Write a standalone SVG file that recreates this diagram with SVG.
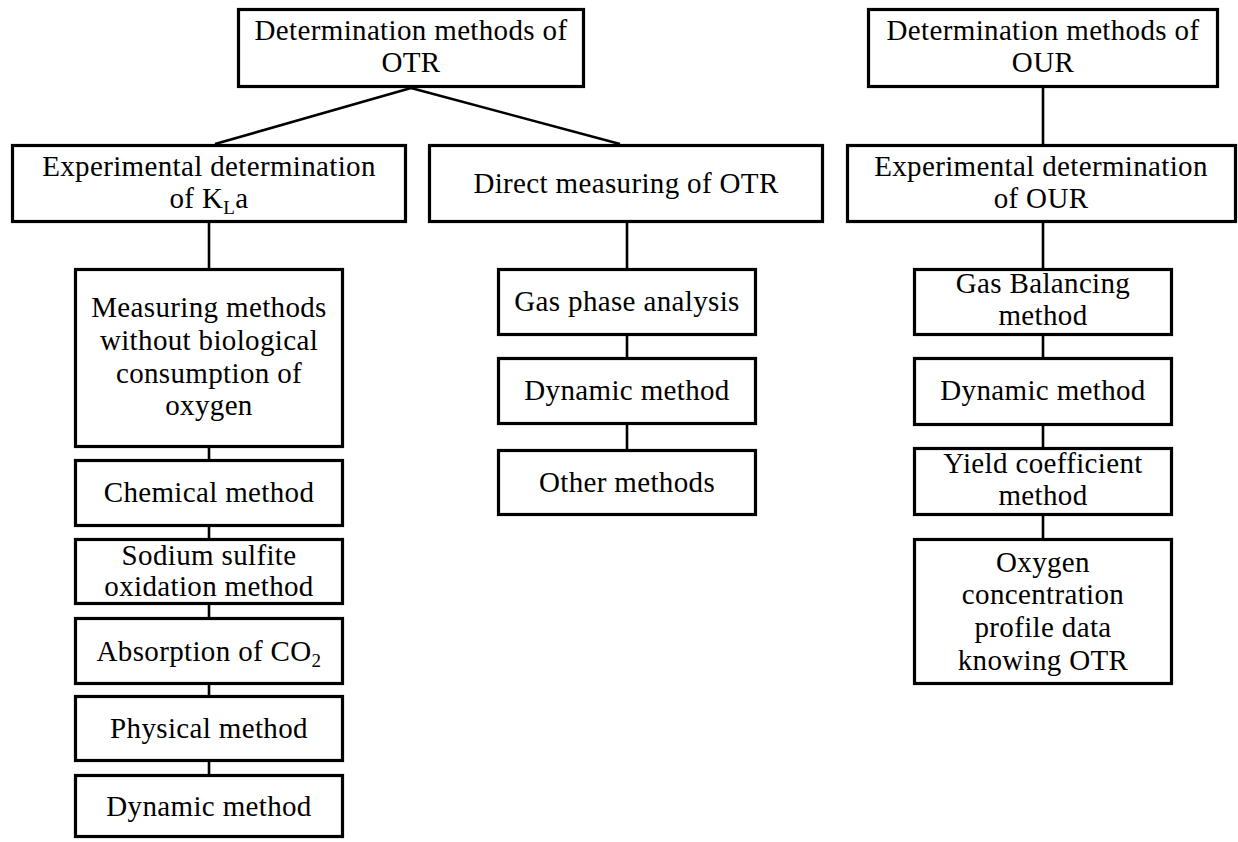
<svg xmlns="http://www.w3.org/2000/svg" width="1238" height="842" viewBox="0 0 1238 842">
<style>
.box{fill:#fff;stroke:#000;stroke-width:3.2}
.ln{stroke:#000;stroke-width:2.6;fill:none}
text{font-family:"Liberation Serif","Times New Roman",serif;font-size:29px;fill:#000;text-anchor:middle;letter-spacing:0.35px}
</style>
<rect x="0" y="0" width="1238" height="842" fill="#fff"/>
<g id="connectors">
<line class="ln" x1="411" y1="88" x2="215" y2="144"/>
<line class="ln" x1="411" y1="88" x2="620" y2="144"/>
<line class="ln" x1="209" y1="223" x2="209" y2="268"/>
<line class="ln" x1="209" y1="448" x2="209" y2="459"/>
<line class="ln" x1="209" y1="527" x2="209" y2="538"/>
<line class="ln" x1="209" y1="605" x2="209" y2="617"/>
<line class="ln" x1="209" y1="685" x2="209" y2="695"/>
<line class="ln" x1="209" y1="762" x2="209" y2="774"/>
<line class="ln" x1="627" y1="223" x2="627" y2="268"/>
<line class="ln" x1="627" y1="336" x2="627" y2="357"/>
<line class="ln" x1="627" y1="425" x2="627" y2="449"/>
<line class="ln" x1="1043" y1="88" x2="1043" y2="144"/>
<line class="ln" x1="1043" y1="223" x2="1043" y2="268"/>
<line class="ln" x1="1043" y1="336" x2="1043" y2="357"/>
<line class="ln" x1="1043" y1="426" x2="1043" y2="447"/>
<line class="ln" x1="1043" y1="516" x2="1043" y2="538"/>
</g>
<g id="otr_top">
<rect class="box" x="238.5" y="9.5" width="345" height="77"/>
<text x="411" y="40">Determination methods of</text>
<text x="411" y="72">OTR</text>
</g>
<g id="kla">
<rect class="box" x="12.5" y="145.5" width="393" height="76"/>
<text x="209" y="176">Experimental determination</text>
<text x="209" y="208">of K<tspan font-size="19" dy="6">L</tspan><tspan dy="-6">a</tspan></text>
</g>
<g id="direct">
<rect class="box" x="429.5" y="145.5" width="393" height="76"/>
<text x="626" y="193">Direct measuring of OTR</text>
</g>
<g id="our_top">
<rect class="box" x="868.5" y="9.5" width="349" height="77"/>
<text x="1043" y="40">Determination methods of</text>
<text x="1043" y="72">OUR</text>
</g>
<g id="our_exp">
<rect class="box" x="847.5" y="145.5" width="388" height="76"/>
<text x="1041" y="176">Experimental determination</text>
<text x="1041" y="208">of OUR</text>
</g>
<g id="measuring">
<rect class="box" x="75.5" y="269.5" width="267" height="177"/>
<text x="209" y="317">Measuring methods</text>
<text x="209" y="350">without biological</text>
<text x="209" y="383">consumption of</text>
<text x="209" y="415">oxygen</text>
</g>
<g id="chemical">
<rect class="box" x="75.5" y="460.5" width="267" height="65"/>
<text x="209" y="502">Chemical method</text>
</g>
<g id="sodium">
<rect class="box" x="75.5" y="539.5" width="267" height="64"/>
<text x="209" y="565">Sodium sulfite</text>
<text x="209" y="596">oxidation method</text>
</g>
<g id="absorption">
<rect class="box" x="75.5" y="618.5" width="267" height="65"/>
<text x="209" y="661">Absorption of CO<tspan font-size="19" dy="6">2</tspan></text>
</g>
<g id="physical">
<rect class="box" x="75.5" y="696.5" width="267" height="64"/>
<text x="209" y="738">Physical method</text>
</g>
<g id="dynamic_left">
<rect class="box" x="75.5" y="775.5" width="267" height="61"/>
<text x="209" y="816">Dynamic method</text>
</g>
<g id="gas_phase">
<rect class="box" x="498.5" y="269.5" width="257" height="65"/>
<text x="627" y="311">Gas phase analysis</text>
</g>
<g id="dynamic_mid">
<rect class="box" x="498.5" y="358.5" width="257" height="65"/>
<text x="627" y="400">Dynamic method</text>
</g>
<g id="other">
<rect class="box" x="498.5" y="450.5" width="257" height="64"/>
<text x="627" y="492">Other methods</text>
</g>
<g id="gas_bal">
<rect class="box" x="914.5" y="269.5" width="257" height="65"/>
<text x="1043" y="293">Gas Balancing</text>
<text x="1043" y="325">method</text>
</g>
<g id="dynamic_right">
<rect class="box" x="914.5" y="358.5" width="257" height="66"/>
<text x="1043" y="400">Dynamic method</text>
</g>
<g id="yield">
<rect class="box" x="914.5" y="448.5" width="257" height="66"/>
<text x="1043" y="473">Yield coefficient</text>
<text x="1043" y="505">method</text>
</g>
<g id="oxygen">
<rect class="box" x="914.5" y="539.5" width="257" height="144"/>
<text x="1043" y="572">Oxygen</text>
<text x="1043" y="604">concentration</text>
<text x="1043" y="637">profile data</text>
<text x="1043" y="670">knowing OTR</text>
</g>
</svg>
